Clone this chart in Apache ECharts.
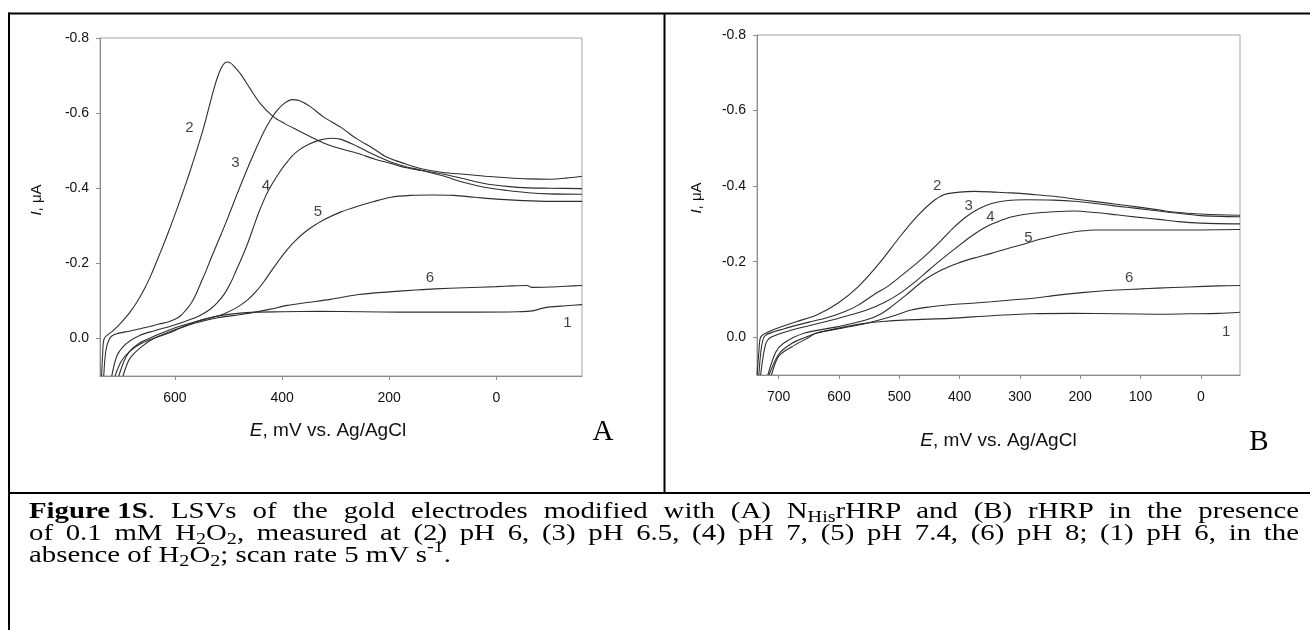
<!DOCTYPE html>
<html>
<head>
<meta charset="utf-8">
<script src="https://cdn.jsdelivr.net/npm/echarts@6.0.0/dist/echarts.min.js"></script>
<style>
html, body { margin: 0; padding: 0; background: #fff; }
#chart { position: absolute; left: 0; top: 0; width: 1310px; height: 630px; }
#caption { position: absolute; left: 29px; top: 499px; transform-origin: 0 0;
	font-family: "Liberation Serif", "Times New Roman", Times, serif; font-size: 24px; line-height: 22px; color: #000; }
#caption .ln { white-space: nowrap; }
#caption .j { text-align: justify; text-align-last: justify; }
#caption .nb { display: inline-block; }
#caption sub { font-size: 70%; line-height: 0; vertical-align: -0.25em; }
#caption sup { font-size: 70%; line-height: 0; vertical-align: 0.6em; }
</style>
</head>
<body>
<div id="chart"></div>
<div id="caption">
	<div class="ln j"><b class="nb">Figure 1S</b>. LSVs of the gold electrodes modified with (A) N<sub>His</sub>rHRP and (B) rHRP in the presence</div>
	<div class="ln j">of 0.1 mM H<sub>2</sub>O<sub>2</sub>, measured at (2) pH 6, (3) pH 6.5, (4) pH 7, (5) pH 7.4, (6) pH 8; (1) pH 6, in the</div>
	<div class="ln">absence of H<sub>2</sub>O<sub>2</sub>; scan rate 5 mV s<sup>-1</sup>.</div>
</div>
<script>
// tick labels
var ticksA = [600, 400, 200, 0];
var ticksB = [700, 600, 500, 400, 300, 200, 100, 0];
var ticksI = [-0.8, -0.6, -0.4, -0.2, 0];

// panel A: NHis-rHRP, [E mV, I uA]
var curveA1 = [[712,0.1],[700,0.06],[685,0.035],[665,0.015],[640,0.0],[610,-0.015],[590,-0.028],[560,-0.045],[530,-0.057],[500,-0.064],[450,-0.07],[400,-0.071],[330,-0.072],[250,-0.071],[180,-0.07],[110,-0.07],[40,-0.07],[-40,-0.071],[-70,-0.074],[-85,-0.08],[-100,-0.084],[-130,-0.087],[-160,-0.09]];
var curveA2 = [[737,0.1],[735,0.04],[732,0.0],[716,-0.02],[700,-0.043],[685,-0.068],[670,-0.099],[657,-0.132],[645,-0.168],[635,-0.202],[620,-0.255],[605,-0.311],[590,-0.37],[575,-0.432],[560,-0.498],[548,-0.554],[538,-0.607],[528,-0.661],[520,-0.698],[513,-0.722],[507,-0.734],[502,-0.736],[496,-0.733],[490,-0.725],[478,-0.705],[460,-0.666],[441,-0.626],[416,-0.59],[395,-0.572],[372,-0.555],[347,-0.537],[322,-0.52],[290,-0.505],[259,-0.493],[228,-0.478],[197,-0.466],[170,-0.455],[140,-0.447],[100,-0.438],[60,-0.425],[20,-0.412],[-20,-0.405],[-60,-0.401],[-100,-0.4],[-160,-0.399]];
var curveA3 = [[733,0.1],[729,0.032],[722,0.0],[712,-0.011],[684,-0.02],[647,-0.032],[628,-0.039],[613,-0.044],[600,-0.051],[589,-0.061],[580,-0.075],[570,-0.093],[561,-0.117],[552,-0.147],[542,-0.18],[533,-0.212],[524,-0.243],[514,-0.277],[503,-0.315],[485,-0.381],[466,-0.448],[450,-0.501],[435,-0.548],[422,-0.581],[410,-0.606],[396,-0.626],[381,-0.636],[367,-0.633],[348,-0.618],[323,-0.59],[290,-0.562],[261,-0.532],[230,-0.506],[205,-0.483],[170,-0.465],[140,-0.452],[100,-0.442],[60,-0.437],[20,-0.432],[-20,-0.428],[-60,-0.425],[-100,-0.424],[-130,-0.427],[-160,-0.432]];
var curveA4 = [[718,0.1],[708,0.045],[692,0.015],[666,-0.008],[640,-0.02],[610,-0.032],[580,-0.046],[555,-0.06],[535,-0.077],[520,-0.097],[507,-0.12],[496,-0.148],[486,-0.18],[476,-0.212],[465,-0.25],[455,-0.29],[445,-0.33],[435,-0.365],[425,-0.395],[415,-0.42],[405,-0.442],[395,-0.462],[383,-0.483],[370,-0.5],[350,-0.517],[330,-0.528],[308,-0.533],[290,-0.53],[265,-0.515],[241,-0.498],[220,-0.484],[197,-0.47],[170,-0.458],[140,-0.448],[100,-0.433],[60,-0.415],[20,-0.402],[-20,-0.394],[-60,-0.388],[-100,-0.385],[-160,-0.384]];
var curveA5 = [[705,0.1],[695,0.06],[685,0.035],[666,0.012],[640,-0.005],[601,-0.028],[560,-0.045],[530,-0.056],[508,-0.066],[485,-0.082],[465,-0.102],[448,-0.126],[433,-0.153],[420,-0.18],[406,-0.208],[392,-0.234],[376,-0.259],[360,-0.28],[345,-0.296],[322,-0.316],[290,-0.337],[259,-0.352],[230,-0.364],[197,-0.376],[160,-0.381],[120,-0.382],[80,-0.381],[40,-0.376],[0,-0.371],[-50,-0.367],[-100,-0.365],[-160,-0.365]];
var curveA6 = [[697,0.1],[685,0.055],[665,0.025],[640,0.0],[610,-0.018],[590,-0.028],[560,-0.042],[520,-0.055],[480,-0.063],[450,-0.07],[422,-0.078],[390,-0.088],[357,-0.095],[310,-0.104],[257,-0.117],[200,-0.124],[150,-0.129],[114,-0.132],[60,-0.135],[0,-0.138],[-30,-0.14],[-58,-0.141],[-66,-0.136],[-100,-0.137],[-130,-0.139],[-160,-0.141]];

// panel B: rHRP
var curveB1 = [[716,0.1],[700,0.045],[678,0.016],[655,0.0],[637,-0.011],[588,-0.028],[560,-0.036],[533,-0.041],[485,-0.046],[416,-0.05],[347,-0.057],[280,-0.062],[210,-0.063],[140,-0.062],[72,-0.061],[20,-0.062],[-30,-0.063],[-65,-0.066]];
var curveB2 = [[736,0.1],[733,0.04],[730,0.0],[720,-0.012],[706,-0.022],[671,-0.041],[637,-0.059],[602,-0.09],[568,-0.134],[533,-0.196],[499,-0.266],[471,-0.319],[444,-0.36],[425,-0.378],[400,-0.384],[375,-0.386],[340,-0.384],[313,-0.382],[280,-0.378],[244,-0.373],[210,-0.366],[175,-0.359],[140,-0.352],[106,-0.345],[70,-0.337],[37,-0.33],[0,-0.326],[-30,-0.324],[-65,-0.323]];
var curveB3 = [[733,0.1],[728,0.02],[722,-0.005],[692,-0.022],[650,-0.04],[623,-0.05],[590,-0.068],[568,-0.085],[540,-0.115],[520,-0.134],[495,-0.165],[471,-0.196],[450,-0.226],[430,-0.257],[410,-0.29],[389,-0.319],[368,-0.34],[347,-0.354],[320,-0.362],[290,-0.364],[244,-0.363],[210,-0.36],[175,-0.354],[140,-0.347],[106,-0.341],[70,-0.334],[37,-0.328],[0,-0.322],[-65,-0.319]];
var curveB4 = [[730,0.1],[722,0.02],[713,0.0],[678,-0.019],[623,-0.041],[590,-0.055],[554,-0.072],[525,-0.092],[499,-0.116],[475,-0.145],[451,-0.178],[427,-0.21],[403,-0.24],[380,-0.268],[355,-0.293],[330,-0.31],[313,-0.319],[278,-0.328],[244,-0.332],[210,-0.334],[175,-0.33],[140,-0.324],[106,-0.318],[70,-0.312],[37,-0.306],[0,-0.302],[-65,-0.3]];
var curveB5 = [[718,0.1],[705,0.04],[692,0.016],[657,-0.011],[602,-0.028],[554,-0.046],[530,-0.062],[513,-0.081],[490,-0.11],[458,-0.152],[430,-0.178],[403,-0.196],[375,-0.21],[347,-0.222],[320,-0.235],[299,-0.244],[270,-0.258],[244,-0.268],[220,-0.276],[200,-0.281],[175,-0.284],[100,-0.284],[0,-0.284],[-65,-0.285]];
var curveB6 = [[712,0.1],[700,0.05],[678,0.025],[655,0.005],[637,-0.011],[595,-0.024],[554,-0.037],[513,-0.055],[480,-0.072],[450,-0.08],[416,-0.086],[380,-0.09],[347,-0.094],[310,-0.099],[278,-0.103],[244,-0.11],[210,-0.116],[175,-0.121],[141,-0.125],[100,-0.128],[72,-0.13],[20,-0.133],[-30,-0.136],[-65,-0.137]];

// curve numbers [text, E, I]
var labelsA = [['2',573,-0.56],['3',487,-0.468],['4',430,-0.406],['5',333,-0.336],['6',124,-0.162],['1',-133,-0.042]];
var labelsB = [['2',437,-0.4],['3',385,-0.347],['4',349,-0.319],['5',286,-0.264],['6',119,-0.156],['1',-42,-0.014]];

var sans = '"Liberation Sans", Arial, sans-serif';
var serif = '"Liberation Serif", "Times New Roman", serif';
var axisGray = '#8c8c8c';

function xAxis(grid, min, max, ticks, gap, pad) {
	return {
		type: 'value', gridIndex: grid, min: min, max: max, inverse: true,
		name: '{i|E}, mV vs. Ag/AgCl', nameLocation: 'middle', nameGap: gap,
		nameTextStyle: {
			fontSize: 19, fontFamily: sans, color: '#111', padding: pad,
			rich: { i: { fontSize: 19, fontFamily: sans, fontStyle: 'italic', color: '#111' } }
		},
		axisLine: { show: true, onZero: false, lineStyle: { color: axisGray, width: 1 } },
		axisTick: { show: true, length: 4, customValues: ticks, lineStyle: { color: axisGray } },
		axisLabel: { customValues: ticks, margin: 15, fontSize: 14, fontFamily: sans, color: '#111' },
		splitLine: { show: false }
	};
}

function yAxis(grid, gap) {
	return {
		type: 'value', gridIndex: grid, min: -0.8, max: 0.1, inverse: true,
		name: '{i|I}, μA', nameLocation: 'middle', nameGap: gap,
		nameTextStyle: {
			fontSize: 15, fontFamily: sans, color: '#111', padding: [0, 0, 0, 14],
			rich: { i: { fontSize: 15, fontFamily: sans, fontStyle: 'italic', color: '#111' } }
		},
		axisLine: { show: true, onZero: false, lineStyle: { color: axisGray, width: 1 } },
		axisTick: { show: true, length: 4, customValues: ticksI, lineStyle: { color: axisGray } },
		axisLabel: {
			customValues: ticksI, margin: 11, fontSize: 14, fontFamily: sans, color: '#111',
			formatter: function(v) { return v.toFixed(1); }
		},
		splitLine: { show: false }
	};
}

function curve(data, idx) {
	return {
		type: 'line', xAxisIndex: idx, yAxisIndex: idx, data: data,
		showSymbol: false, symbol: 'none', smooth: 0.3, silent: true,
		lineStyle: { color: '#2e2e2e', width: 1.1 }
	};
}

function numbers(list, idx) {
	return {
		type: 'scatter', xAxisIndex: idx, yAxisIndex: idx, symbolSize: 1, silent: true,
		itemStyle: { color: 'rgba(0,0,0,0)' },
		label: { show: true, position: 'inside', formatter: '{b}', fontSize: 15, fontFamily: sans, color: '#111' },
		data: list.map(function(d) { return { name: d[0], value: [d[1], d[2]] }; })
	};
}

function frameLine(x1, y1, x2, y2) {
	return { type: 'line', silent: true, shape: { x1: x1, y1: y1, x2: x2, y2: y2 }, style: { stroke: '#000', lineWidth: 2 } };
}

function letter(t, x, y) {
	return {
		type: 'text', x: x, y: y, silent: true,
		style: { text: t, font: '29px ' + serif, fill: '#000', align: 'center', verticalAlign: 'middle', textAlign: 'center', textVerticalAlign: 'middle' }
	};
}

var chart = echarts.init(document.getElementById('chart'), null, { renderer: 'canvas' });
chart.setOption({
	animation: false,
	backgroundColor: '#fff',
	grid: [
		{ left: 100, top: 38, width: 482, height: 338, show: true, borderColor: '#a4a4a4', borderWidth: 1 },
		{ left: 757, top: 35, width: 483, height: 340, show: true, borderColor: '#a4a4a4', borderWidth: 1 }
	],
	xAxis: [xAxis(0, -160, 740, ticksA, 45, [0, 26, 0, 0]), xAxis(1, -65, 736, ticksB, 56, 0)],
	yAxis: [yAxis(0, 56), yAxis(1, 53)],
	series: [
		curve(curveA1, 0), curve(curveA2, 0), curve(curveA3, 0), curve(curveA4, 0), curve(curveA5, 0), curve(curveA6, 0),
		curve(curveB1, 1), curve(curveB2, 1), curve(curveB3, 1), curve(curveB4, 1), curve(curveB5, 1), curve(curveB6, 1),
		numbers(labelsA, 0), numbers(labelsB, 1)
	],
	graphic: [
		frameLine(9, 12.5, 9, 630),
		frameLine(8, 13.5, 1310, 13.5),
		frameLine(664.5, 13, 664.5, 493),
		frameLine(8, 493, 1310, 493),
		letter('A', 603, 432),
		letter('B', 1259, 442)
	]
});

// caption: horizontal stretch like the source, first two lines justified to 1270px
(function() {
	var k = 1.2;
	var cap = document.getElementById('caption');
	cap.style.width = (1270 / k) + 'px';
	cap.style.transform = 'scaleX(' + k + ')';
})();
</script>
</body>
</html>
